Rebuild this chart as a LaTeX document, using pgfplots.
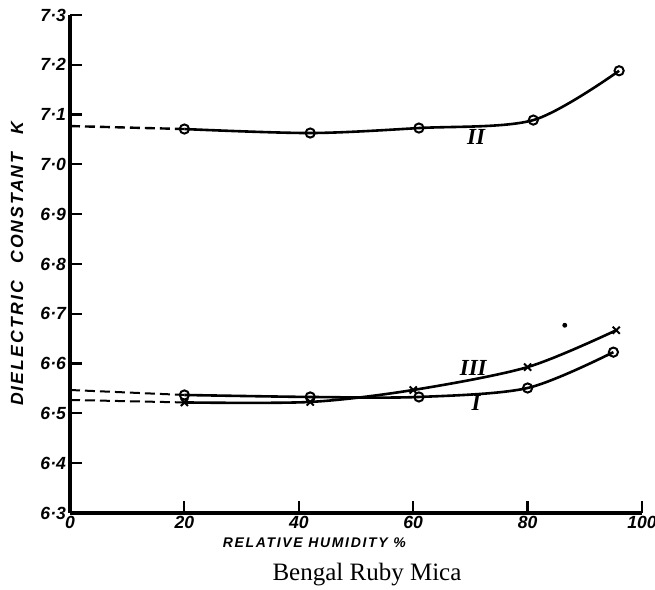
\documentclass[border=0pt]{standalone}
\usepackage{fontspec}
\setmainfont{Liberation Sans}
\newfontfamily\capfont{Liberation Serif}
\newfontfamily\lblfont[LetterSpace=12]{Liberation Sans}
\usepackage{pgfplots}
\pgfplotsset{compat=1.18}

\begin{document}
\begin{tikzpicture}
\path[use as bounding box] (-35pt,-38.5pt) rectangle (292.5pt,256.5pt);
\begin{axis}[
    scale only axis,
    width=286pt, height=249pt,
    at={(0,0)}, anchor=south west,
    xmin=0, xmax=100,
    ymin=6.3, ymax=7.3,
    axis lines=left,
    axis line style={-, line width=1.6pt},
    xtick={0,20,40,60,80,100},
    ytick={6.3,6.4,6.5,6.6,6.7,6.8,6.9,7.0,7.1,7.2,7.3},
    yticklabels={6·3,6·4,6·5,6·6,6·7,6·8,6·9,7·0,7·1,7·2,7·3},
    xticklabels={0,20,40,60,80,100},
    tick align=inside,
    major tick length=6pt,
    tick style={line width=1.1pt, black},
    ticklabel style={font=\fontsize{8.8}{10}\selectfont\bfseries\itshape},
    xticklabel style={yshift=2pt},
    yticklabel style={xshift=1.5pt},
    xlabel={RELATIVE HUMIDITY \%},
    ylabel={DIELECTRIC\quad CONSTANT\quad K},
    every axis x label/.style={at={(axis description cs:0.427,0)}, anchor=center, yshift=-15pt,
        font=\lblfont\fontsize{7}{8}\selectfont\bfseries\itshape},
    every axis y label/.style={at={(axis description cs:0,0.5)}, anchor=center, xshift=-26.5pt, rotate=90,
        font=\lblfont\fontsize{8.8}{10}\selectfont\bfseries\itshape},
    clip=false,
]
% curve II
\addplot[black, line width=1.2pt, dash pattern=on 5pt off 2.5pt] coordinates {(0,7.077)(20,7.071)};
\addplot[black, line width=1.3pt, smooth, mark=o, mark size=2.3pt, mark options={solid, fill=white, line width=1pt}]
    coordinates {(20,7.071)(42,7.063)(61,7.073)(81,7.089)(96,7.188)};
% curve I
\addplot[black, line width=1pt, dash pattern=on 5pt off 2.5pt] coordinates {(0,6.547)(20,6.537)};
\addplot[black, line width=1.3pt, smooth, mark=o, mark size=2.3pt, mark options={solid, fill=white, line width=1pt}]
    coordinates {(20,6.537)(42,6.533)(61,6.533)(80,6.551)(95,6.623)};
% curve III
\addplot[black, line width=1pt, dash pattern=on 5pt off 2.5pt] coordinates {(0,6.527)(20,6.522)};
\addplot[black, line width=1.3pt, smooth, mark=x, mark size=2.5pt, mark options={solid, line width=1pt}]
    coordinates {(20,6.522)(42,6.523)(60,6.547)(80,6.593)(95.5,6.667)};
% stray ink dot
\addplot[only marks, mark=*, mark size=1pt, black] coordinates {(86.5,6.677)};
\node[font=\capfont\fontsize{11.5}{12}\selectfont\bfseries\itshape] at (axis cs:71,7.055) {II};
\node[font=\capfont\fontsize{11.5}{12}\selectfont\bfseries\itshape] at (axis cs:70.5,6.591) {III};
\node[font=\capfont\fontsize{11.5}{12}\selectfont\bfseries\itshape] at (axis cs:71,6.52) {I};
\end{axis}
\node[font=\capfont\fontsize{12.5}{14}\selectfont] at (148.5pt,-31pt) {Bengal Ruby Mica};
\end{tikzpicture}
\end{document}
